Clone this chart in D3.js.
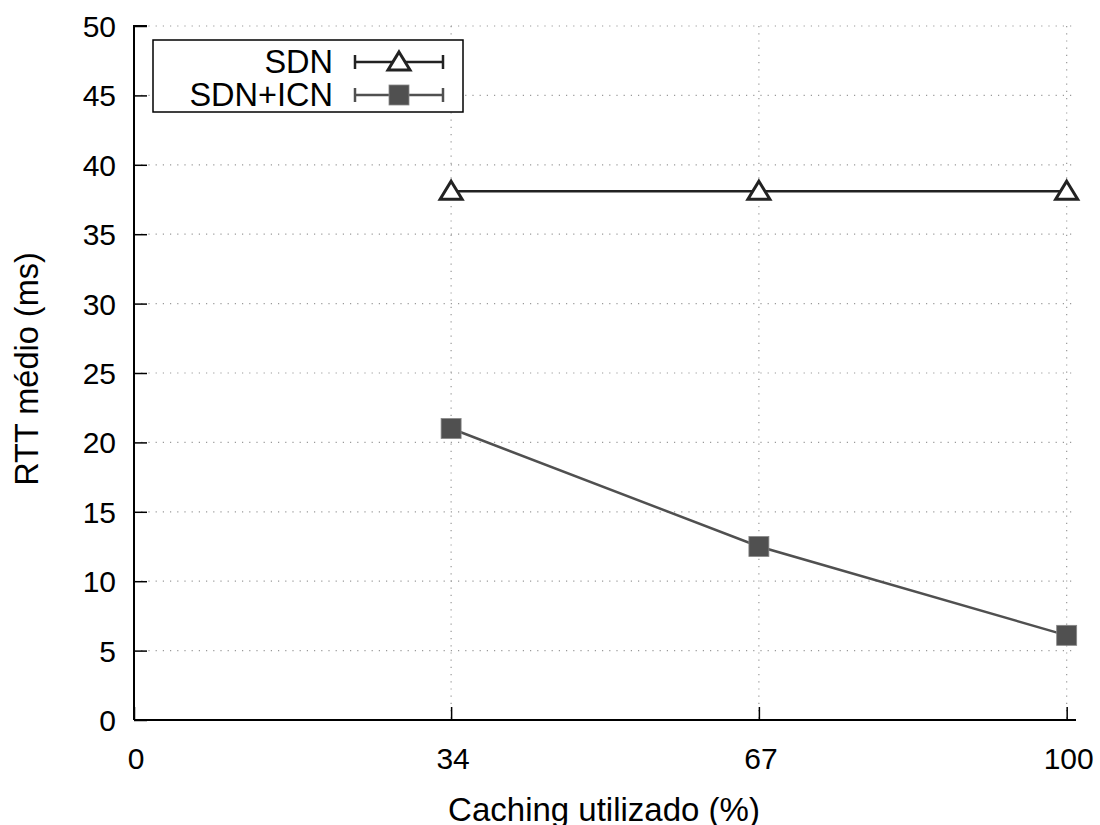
<!DOCTYPE html>
<html>
<head>
<meta charset="utf-8">
<script src="https://cdn.jsdelivr.net/npm/d3@7"></script>
<style>
  body{margin:0;background:#fff;}
  text{font-family:"Liberation Sans",Arial,sans-serif;}
</style>
</head>
<body>
<svg id="chart" width="1100" height="825"></svg>
<script>
// data
var caching  = [34, 67, 100];
var sdn      = [38.1, 38.1, 38.1];
var sdnIcn   = [21.0, 12.5, 6.1];
var xTicks   = [0, 34, 67, 100];
var yTicks   = [0, 5, 10, 15, 20, 25, 30, 35, 40, 45, 50];
var names    = ['SDN', 'SDN+ICN'];

var svg = d3.select('#chart');
var ml = 134, mr = 1076, mt = 26, mb = 720;
var x = d3.scaleLinear().domain([0, 101]).range([ml, mr]);
var y = d3.scaleLinear().domain([0, 50]).range([mb, mt]);
var fsTick = 30, fsLab = 32.5;

// grid
var grid = svg.append('g').attr('stroke', '#999').attr('stroke-width', 1.2)
  .attr('stroke-dasharray', '1.2,6');
grid.selectAll('.gy').data(yTicks.slice(1)).enter().append('line')
  .attr('x1', ml).attr('x2', mr)
  .attr('y1', function(d){return y(d);}).attr('y2', function(d){return y(d);});
grid.selectAll('.gx').data(xTicks.slice(1)).enter().append('line')
  .attr('y1', mt).attr('y2', mb)
  .attr('x1', function(d){return x(d);}).attr('x2', function(d){return x(d);});

// axes
var yAxis = svg.append('g').attr('transform', 'translate(' + ml + ',0)')
  .call(d3.axisRight(y).tickValues(yTicks).tickSize(13).tickFormat(''));
var xAxis = svg.append('g').attr('transform', 'translate(0,' + mb + ')')
  .call(d3.axisTop(x).tickValues(xTicks).tickSize(13).tickFormat(''));
[xAxis, yAxis].forEach(function(a){
  a.selectAll('path').attr('stroke', '#000').attr('stroke-width', 2);
  a.selectAll('line').attr('stroke', '#000').attr('stroke-width', 1.5);
});
yAxis.select('path').attr('d', 'M0,' + mb + 'V' + mt + 'H13');
xAxis.select('path').attr('d', 'M' + ml + ',0H' + mr);

svg.append('g').selectAll('text').data(yTicks).enter().append('text')
  .attr('x', 116).attr('y', function(d){return y(d) + 11;})
  .attr('text-anchor', 'end').attr('font-size', fsTick).text(function(d){return d;});
svg.append('g').selectAll('text').data(xTicks).enter().append('text')
  .attr('x', function(d){return x(d) + 2;}).attr('y', 769)
  .attr('text-anchor', 'middle').attr('font-size', fsTick).text(function(d){return d;});

svg.append('text').attr('transform', 'translate(38,' + 369 + ') rotate(-90)')
  .attr('text-anchor', 'middle').attr('font-size', fsLab).text('RTT médio (ms)');
svg.append('text').attr('x', 604).attr('y', 821)
  .attr('text-anchor', 'middle').attr('font-size', 33).text('Caching utilizado (%)');

// series
var line = d3.line().x(function(d){return x(d[0]);}).y(function(d){return y(d[1]);});
var triangle = 'M0,-10L11,8L-11,8Z';
function series(vals, color, marker){
  var pts = caching.map(function(c, i){return [c, vals[i]];});
  svg.append('path').datum(pts).attr('d', line).attr('fill', 'none')
    .attr('stroke', color).attr('stroke-width', 2.5);
  drawMarkers(svg, pts.map(function(p){return [x(p[0]), y(p[1])];}), color, marker);
}
function drawMarkers(g, xy, color, marker){
  if (marker === 'tri') {
    g.selectAll(null).data(xy).enter().append('path')
      .attr('transform', function(d){return 'translate(' + d[0] + ',' + d[1] + ')';})
      .attr('d', triangle).attr('fill', '#fff').attr('stroke', color).attr('stroke-width', 3);
  } else {
    g.selectAll(null).data(xy).enter().append('rect')
      .attr('x', function(d){return d[0] - 10;}).attr('y', function(d){return d[1] - 10;})
      .attr('width', 20).attr('height', 20).attr('fill', color)
      .attr('stroke', '#888').attr('stroke-width', 0.8);
  }
}
series(sdn, '#222', 'tri');
series(sdnIcn, '#505050', 'sq');

// legend
var leg = svg.append('g');
leg.append('rect').attr('x', 153).attr('y', 40).attr('width', 310).attr('height', 72)
  .attr('fill', '#fff').attr('stroke', '#000').attr('stroke-width', 1.5);
var colors = ['#222', '#505050'], marks = ['tri', 'sq'];
names.forEach(function(n, i){
  var ly = 62 + i * 33;
  leg.append('text').attr('x', 333).attr('y', ly + 11).attr('text-anchor', 'end')
    .attr('font-size', fsLab).text(n);
  leg.append('line').attr('x1', 355).attr('x2', 443).attr('y1', ly).attr('y2', ly)
    .attr('stroke', colors[i]).attr('stroke-width', 2.5);
  [355, 443].forEach(function(cx){
    leg.append('line').attr('x1', cx).attr('x2', cx).attr('y1', ly - 7).attr('y2', ly + 7)
      .attr('stroke', colors[i]).attr('stroke-width', 2.5);
  });
  drawMarkers(leg, [[399, ly]], colors[i], marks[i]);
});
</script>
</body>
</html>
